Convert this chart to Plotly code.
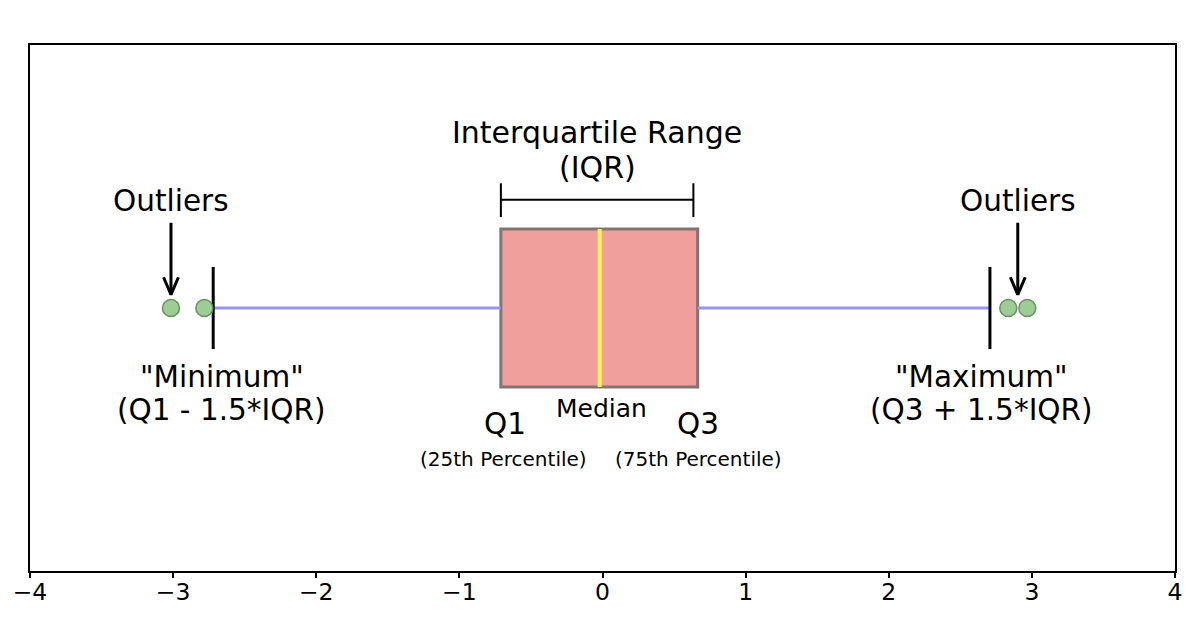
import plotly.graph_objects as go

# ---- data ----
q1 = -0.71
median = -0.02
q3 = 0.665
lower_whisker = -2.72
upper_whisker = 2.707
outliers_low = [-3.015, -2.782]
outliers_high = [2.835, 2.968]
x_ticks = [-4, -3, -2, -1, 0, 1, 2, 3, 4]

# ---- layout constants ----
BOX_HALF = 0.5
CAP_HALF = 0.26
FONT = "DejaVu Sans"

fig = go.Figure()

# whisker lines
fig.add_trace(go.Scatter(
    x=[lower_whisker, q1, None, q3, upper_whisker],
    y=[0, 0, None, 0, 0],
    mode="lines", line=dict(color="rgb(150,150,238)", width=3),
    hoverinfo="skip", showlegend=False))

# box (drawn below the traces so the median line shows on top)
fig.add_shape(type="rect", xref="x", yref="y", x0=q1, x1=q3,
              y0=-BOX_HALF, y1=BOX_HALF, layer="below",
              fillcolor="rgb(241,159,156)",
              line=dict(color="rgb(128,116,116)", width=3))
# median
fig.add_trace(go.Scatter(
    x=[median, median], y=[-BOX_HALF, BOX_HALF], mode="lines",
    line=dict(color="rgb(255,245,80)", width=4),
    hoverinfo="skip", showlegend=False))

# whisker caps
fig.add_trace(go.Scatter(
    x=[lower_whisker, lower_whisker, None, upper_whisker, upper_whisker],
    y=[-CAP_HALF, CAP_HALF, None, -CAP_HALF, CAP_HALF], mode="lines",
    line=dict(color="black", width=3),
    hoverinfo="skip", showlegend=False))

# outliers
fig.add_trace(go.Scatter(
    x=outliers_low + outliers_high, y=[0] * (len(outliers_low) + len(outliers_high)),
    mode="markers",
    marker=dict(size=17, color="rgb(157,204,148)",
                line=dict(color="rgb(105,145,100)", width=1.5)),
    hoverinfo="skip", showlegend=False))

# arrows pointing at outliers (open chevron heads)
arrow_top, arrow_tip = 0.54, 0.085
head_dx, head_dy = 0.052, 0.11
for xa in [outliers_low[0], (outliers_high[0] + outliers_high[1]) / 2]:
    fig.add_trace(go.Scatter(
        x=[xa, xa, None, xa - head_dx, xa, xa + head_dx],
        y=[arrow_top, arrow_tip, None, arrow_tip + head_dy, arrow_tip, arrow_tip + head_dy],
        mode="lines", line=dict(color="black", width=3),
        hoverinfo="skip", showlegend=False))

# IQR bracket
br_y, br_lo, br_hi = 0.685, 0.576, 0.79
br_right = q3 - 0.03
fig.add_trace(go.Scatter(
    x=[q1, q1, None, q1, br_right, None, br_right, br_right],
    y=[br_lo, br_hi, None, br_y, br_y, None, br_lo, br_hi],
    mode="lines", line=dict(color="black", width=2),
    hoverinfo="skip", showlegend=False))

# text labels
def label(x, y, text, size):
    fig.add_annotation(x=x, y=y, xref="x", yref="y", text=text, showarrow=False,
                       xanchor="center", yanchor="middle",
                       font=dict(family=FONT, size=size, color="black"))

mid_iqr = (q1 + br_right) / 2
label(mid_iqr, 1.11, "Interquartile Range", 30)
label(mid_iqr, 0.888, "(IQR)", 30)
label(outliers_low[0], 0.676, "Outliers", 29.5)
label((outliers_high[0] + outliers_high[1]) / 2, 0.676, "Outliers", 29.5)
label(lower_whisker + 0.06, -0.435, "\"Minimum\"", 29.5)
label(lower_whisker + 0.06, -0.647, "(Q1 - 1.5*IQR)", 29.5)
label(upper_whisker - 0.057, -0.435, "\"Maximum\"", 29.5)
label(upper_whisker - 0.057, -0.647, "(Q3 + 1.5*IQR)", 29.5)
label(median + 0.014, -0.637, "Median", 25)
label(q1 + 0.03, -0.732, "Q1", 29.5)
label(q3 + 0.002, -0.732, "Q3", 29.5)
label(q1 + 0.02, -0.954, "(25th Percentile)", 20)
label(q3 + 0.009, -0.954, "(75th Percentile)", 20)

# page has an 8px body margin, so the figure is sized to fit inside the window
fig.update_layout(
    width=1184, height=603,
    margin=dict(l=22, r=17, t=37, b=39.5, autoexpand=False),
    paper_bgcolor="white", plot_bgcolor="white",
    showlegend=False,
    font=dict(family=FONT, color="black"),
)
fig.update_xaxes(range=[-4, 4], tickvals=x_ticks,
                 ticktext=[str(v).replace("-", "\u2212") for v in x_ticks],
                 ticks="outside", ticklen=5, tickwidth=1.5, tickcolor="black",
                 tickfont=dict(family=FONT, size=23.5, color="black"),
                 ticklabelstandoff=-6,
                 showline=True, linecolor="black", linewidth=1.5, mirror=True,
                 showgrid=False, zeroline=False, fixedrange=True, automargin=False)
fig.update_yaxes(range=[-1.666, 1.666], showticklabels=False, ticks="",
                 showline=True, linecolor="black", linewidth=1.5, mirror=True,
                 showgrid=False, zeroline=False, fixedrange=True, automargin=False)

fig.write_html("out.html")
